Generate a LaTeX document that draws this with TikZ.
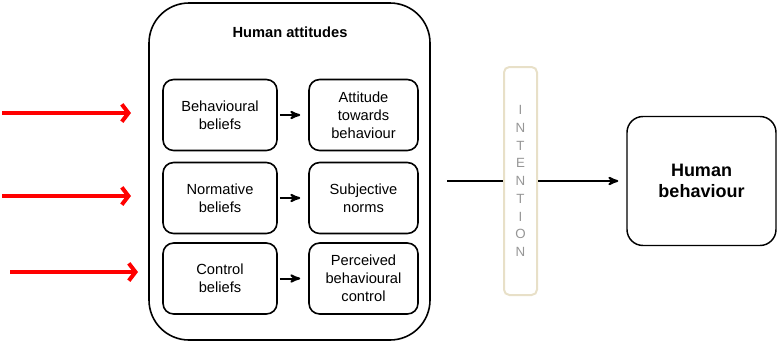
\documentclass[tikz,border=0pt]{standalone}
\usepackage{fontspec}
\setmainfont{Liberation Sans}
\usepackage{xcolor}
\usepackage{tikz}
\usetikzlibrary{
    arrows,
    arrows.meta
}
\definecolor{barline}{RGB}{232,224,200}
\definecolor{lettergray}{RGB}{150,150,150}

\begin{document}
\begin{tikzpicture}[x=0.75pt,y=-0.75pt,->,>=stealth',semithick]
    \tikzstyle{every node}=[font=\fontsize{11}{13.5}\selectfont, align=center]
    \tikzstyle{factor}=[draw, line width=1.2pt, rounded corners=8pt, minimum height=53.25pt, inner sep=0pt]
    \tikzstyle{redarrow}=[draw=red, line width=3pt, -{Straight Barb[length=5pt,width=13pt]}]
    \useasboundingbox (0,0) rectangle (778,347);
    \node[draw, line width=1.2pt, rounded corners=30pt, minimum width=210.75pt, minimum height=252.75pt] (att) at (289.5, 171.5){};
    \node[font=\fontsize{11}{13.5}\selectfont\bfseries] (title) at (290, 32){Human attitudes};
    \node[factor, minimum width=85.5pt] (bb) at (220, 115){Behavioural\\beliefs};
    \node[factor, minimum width=85.5pt] (nb) at (220, 198){Normative\\beliefs};
    \node[factor, minimum width=85.5pt] (cb) at (220, 278.5){Control\\beliefs};
    \node[factor, minimum width=81.75pt] (ab) at (363.5, 115){Attitude\\towards\\behaviour};
    \node[factor, minimum width=81.75pt] (sn) at (363.5, 198){Subjective\\norms};
    \node[factor, minimum width=81.75pt] (pc) at (363.5, 278.5){Perceived\\behavioural\\control};
    \node[draw=barline, line width=1.5pt, rounded corners=4pt, minimum width=24.75pt, minimum height=171pt, text=lettergray, font=\fontsize{10}{13.3}\selectfont] (int) at (520.5, 181){I\\N\\T\\E\\N\\T\\I\\O\\N};
    \node[draw, line width=1.1pt, rounded corners=12pt, minimum width=111.75pt, minimum height=96.75pt, font=\fontsize{13.5}{16}\selectfont\bfseries] (hb) at (701.5, 181){Human\\behaviour};
    \coordinate (in) at (447, 181);
    \coordinate (r1s) at (2, 113);
    \coordinate (r1e) at (131, 113);
    \coordinate (r2s) at (2, 196);
    \coordinate (r2e) at (131, 196);
    \coordinate (r3s) at (10, 272);
    \coordinate (r3e) at (138, 272);
    \path (bb) edge [line width=1.5pt, shorten <=1.5pt, shorten >=6pt] (ab);
    \path (nb) edge [line width=1.5pt, shorten <=1.5pt, shorten >=6pt] (sn);
    \path (cb) edge [line width=1.5pt, shorten <=1.5pt, shorten >=6pt] (pc);
    \path (in) edge [-, line width=1pt] (int);
    \path (int) edge [line width=1.5pt, shorten >=6pt] (hb);
    \path (r1s) edge [redarrow] (r1e);
    \path (r2s) edge [redarrow] (r2e);
    \path (r3s) edge [redarrow] (r3e);
\end{tikzpicture}
\end{document}
